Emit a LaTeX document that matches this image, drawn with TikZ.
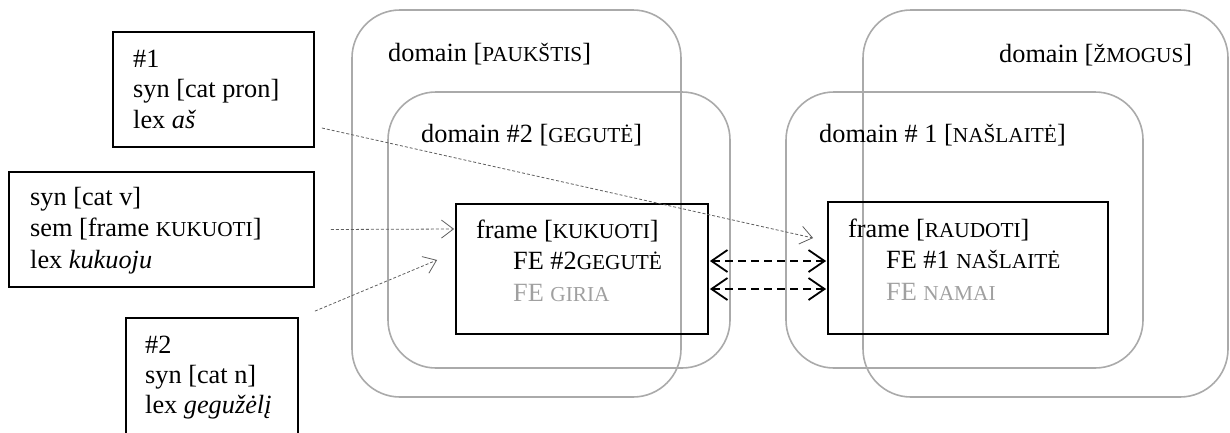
\documentclass[tikz,border=0pt]{standalone}
\usepackage{fontspec}
\setmainfont{Liberation Serif}
\usetikzlibrary{arrows.meta,calc}
\definecolor{domgray}{RGB}{170,170,170}
\definecolor{txtgray}{RGB}{160,160,160}
\definecolor{linkgray}{RGB}{95,95,95}
\newcommand\mysc[1]{{\fontsize{21.3}{31}\selectfont #1}}
\begin{document}
\begin{tikzpicture}[x=1pt,y=-1pt,
  dom/.style={draw=domgray, line width=1.6pt, rounded corners=48pt, inner sep=0pt},
  lexbox/.style={draw=black, line width=1.8pt, inner sep=0pt},
  txt/.style={anchor=base west, inner sep=0pt, align=left},
  fA/.style={font=\fontsize{26.3}{30.5}\selectfont},
  fB/.style={font=\fontsize{26.3}{31.5}\selectfont},
  fC/.style={font=\fontsize{26.3}{30}\selectfont},
  thinlink/.style={draw=linkgray, line width=0.8pt, dash pattern=on 3pt off 2pt,
    -{Straight Barb[length=12pt,width=18pt,line width=0.8pt]}},
  thicklink/.style={draw=black, line width=1.8pt, dash pattern=on 8pt off 5pt,
    {Straight Barb[length=16pt,width=22pt,line width=1.8pt]}-{Straight Barb[length=16pt,width=22pt,line width=1.8pt]}}
]
\useasboundingbox (0,0) rectangle (1230,432);
\begin{scope}
\clip (0,0) rectangle (1230,432);
% domains
\node[dom, minimum width=329pt, minimum height=387pt] (dP) at (516.5,203.5) {};
\node[dom, minimum width=342pt, minimum height=276pt] (dG) at (559,230) {};
\node[dom, minimum width=357pt, minimum height=276pt] (dN) at (964.5,230) {};
\node[dom, minimum width=365pt, minimum height=387pt] (dZ) at (1045.5,203.5) {};
% frames
\node[lexbox, minimum width=252pt, minimum height=130pt] (f1) at (582,269) {};
\node[lexbox, minimum width=280pt, minimum height=132pt] (f2) at (968,268) {};
% lexical boxes
\node[lexbox, minimum width=201pt, minimum height=115pt] (b1) at (213.5,89.5) {};
\node[lexbox, minimum width=305pt, minimum height=115pt] (b2) at (161.5,229.5) {};
\node[lexbox, minimum width=172pt, minimum height=130pt] (b3) at (212,383) {};
\end{scope}
% domain labels
\node[txt, fA] (lP) at (388,61) {domain [\mysc{PAUKŠTIS}]};
\node[txt, fA] (lG) at (421,142) {domain \#2 [\mysc{GEGUTĖ}]};
\node[txt, fA] (lN) at (819,142) {domain \# 1 [\mysc{NAŠLAITĖ}]};
\node[txt, fA] (lZ) at (999,62) {domain [\mysc{ŽMOGUS}]};
% frame texts
\node[txt, fB] (tf1) at (476,238) {\begin{tabular}[t]{@{}l@{}}frame [\mysc{KUKUOTI}]\\ \hspace*{37pt}FE \#2\mysc{GEGUTĖ}\\ \hspace*{37pt}\textcolor{txtgray}{FE \mysc{GIRIA}}\end{tabular}};
\node[txt, fB] (tf2) at (848,237) {\begin{tabular}[t]{@{}l@{}}frame [\mysc{RAUDOTI}]\\ \hspace*{38pt}FE \#1 \mysc{NAŠLAITĖ}\\ \hspace*{38pt}\textcolor{txtgray}{FE \mysc{NAMAI}}\end{tabular}};
% lexical texts
\node[txt, fA] (tb1) at (133,67) {\begin{tabular}[t]{@{}l@{}}\#1\\ syn [cat pron]\\ lex \textit{aš}\end{tabular}};
\node[txt, fB] (tb2) at (30,205) {\begin{tabular}[t]{@{}l@{}}syn [cat v]\\ sem [frame \mysc{KUKUOTI}]\\ lex \textit{kukuoju}\end{tabular}};
\node[txt, fC] (tb3) at (145,353) {\begin{tabular}[t]{@{}l@{}}\#2\\ syn [cat n]\\ lex \textit{gegužėlį}\end{tabular}};
% links
\draw[thinlink] ($(b1.east)+(7,38.5)$) -- ($(f2.west)+(-14,-30)$);
\draw[thinlink] ($(b2.east)+(16,0)$) -- ($(f1.west)+(-1,-40)$);
\draw[thinlink] ($(b3.north east)+(16,-6)$) -- ($(f1.west)+(-18,-9)$);
\draw[thicklink] ($(f1.east)+(1,-8)$) -- ($(f2.west)+(-1,-7)$);
\draw[thicklink] ($(f1.east)+(1,20)$) -- ($(f2.west)+(-1,21)$);
\end{tikzpicture}
\end{document}
